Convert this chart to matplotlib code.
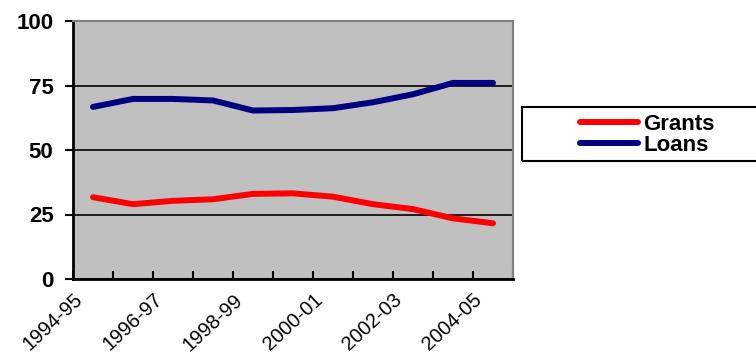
import matplotlib.pyplot as plt
import numpy as np
from matplotlib.patches import Rectangle

plt.rcParams['font.family'] = ['Liberation Sans', 'DejaVu Sans']

years = ['1994-95', '1995-96', '1996-97', '1997-98', '1998-99', '1999-00',
         '2000-01', '2001-02', '2002-03', '2003-04', '2004-05']
grants = [31.7, 29.0, 30.3, 30.9, 33.0, 33.2, 31.9, 29.0, 27.1, 23.5, 21.6]
loans = [66.7, 69.8, 69.8, 69.2, 65.3, 65.5, 66.2, 68.5, 71.6, 76.0, 76.0]

fig = plt.figure(figsize=(7.56, 3.6), dpi=100)
ax = fig.add_axes([73/756, 1-279/360, 440/756, 258/360])
ax.set_facecolor('#C0C0C0')

x = np.arange(len(years))
ax.plot(x, grants, color='#FF0000', lw=4.3, solid_capstyle='round',
        solid_joinstyle='round', label='Grants', zorder=3)
ax.plot(x, loans, color='#000080', lw=4.3, solid_capstyle='round',
        solid_joinstyle='round', label='Loans', zorder=3)

ax.set_xlim(-0.5, len(years) - 0.5)
ax.set_ylim(0, 100)
ax.set_yticks([0, 25, 50, 75, 100])
ax.yaxis.grid(True, color='black', lw=1.2)
ax.set_axisbelow(True)
ax.tick_params(axis='y', direction='out', length=6, width=1.5, pad=8,
               labelsize=16)
for lab in ax.get_yticklabels():
    lab.set_fontweight('bold')

# labels sit on the category boundaries, every second one shown
bounds = np.arange(len(years) + 1) - 0.5
labels = [years[i] if i % 2 == 0 and i < len(years) else '' for i in range(len(bounds))]
ax.set_xticks(bounds, labels=labels, rotation=43, ha='right', va='top',
              rotation_mode='anchor')
ax.tick_params(axis='x', direction='in', length=6, width=1.5, pad=8,
               labelsize=14.5)

for side in ['left', 'bottom']:
    ax.spines[side].set_color('black')
    ax.spines[side].set_linewidth(2)
for side in ['top', 'right']:
    ax.spines[side].set_color('#808080')
    ax.spines[side].set_linewidth(1.5)

fig.patches.append(Rectangle((522/756, 1-161/360), 240/756, 54/360,
                             transform=fig.transFigure, fill=False,
                             ec='black', lw=1.5))
leg = fig.legend(loc='center left', bbox_to_anchor=(560/756, 1-135/360),
                 frameon=False, handlelength=2.6, handletextpad=0.25,
                 labelspacing=-0.02, prop={'weight': 'bold', 'size': 16})

fig.savefig('out.png', dpi=100)
